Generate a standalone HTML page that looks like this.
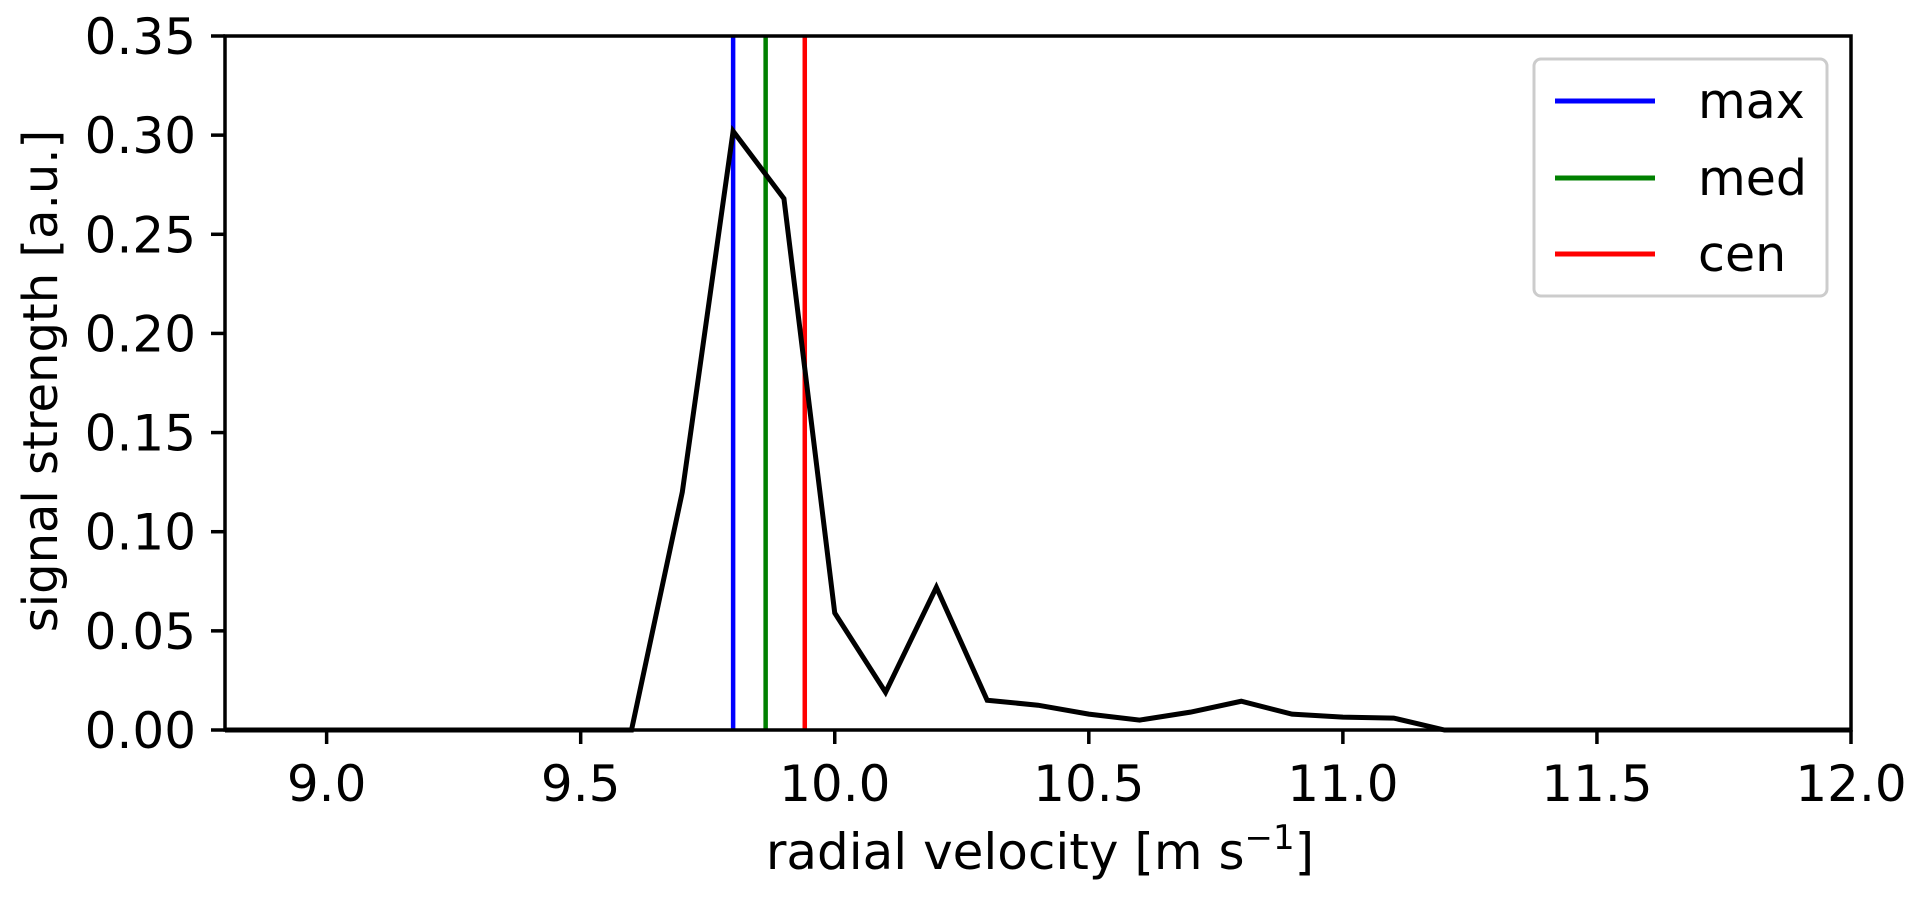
<!DOCTYPE html>
<html><head><meta charset="utf-8"><style>
html,body{margin:0;padding:0;background:#fff}
svg text{font-family:"DejaVu Sans","Liberation Sans",sans-serif;fill:#000}
</style></head><body>
<svg id="chart" width="1923" height="896" xmlns="http://www.w3.org/2000/svg">
<g id="marks"></g>
<g id="axes"></g>
<text x="1040" y="869" font-size="50" text-anchor="middle">radial velocity [m s<tspan font-size="34" dy="-20">−1</tspan><tspan dy="20">]</tspan></text>
<text transform="translate(57,381) rotate(-90)" font-size="48" text-anchor="middle">signal strength [a.u.]</text>
<g>
<rect x="1534" y="59" width="293" height="237" rx="7" fill="#fff" stroke="#ccc" stroke-width="3"/>
<line x1="1555" x2="1655" y1="101" y2="101" stroke="#0000ff" stroke-width="5"/>
<text x="1698" y="118" font-size="49">max</text>
<line x1="1555" x2="1655" y1="178" y2="178" stroke="#008000" stroke-width="5"/>
<text x="1698" y="195" font-size="49">med</text>
<line x1="1555" x2="1655" y1="254" y2="254" stroke="#ff0000" stroke-width="5"/>
<text x="1698" y="271" font-size="49">cen</text>
</g>
</svg>
<script>
const xs = [8.8,8.9,9.0,9.1,9.2,9.3,9.4,9.5,9.6,9.7,9.8,9.9,10.0,10.1,10.2,10.3,10.4,10.5,10.6,10.7,10.8,10.9,11.0,11.1,11.2,11.3,11.4,11.5,11.6,11.7,11.8,11.9,12.0];
const ys = [0,0,0,0,0,0,0,0,0,0.12,0.302,0.268,0.059,0.019,0.072,0.015,0.0125,0.008,0.005,0.009,0.0145,0.008,0.0065,0.006,0,0,0,0,0,0,0,0,0];
const vlineNames = ["max","med","cen"];
const vlineValues = [9.8,9.864,9.941];
const vlineColors = ["#0000ff","#008000","#ff0000"];
const xTicks = [9.0,9.5,10.0,10.5,11.0,11.5,12.0];
const xTickLabels = ["9.0","9.5","10.0","10.5","11.0","11.5","12.0"];
const yTicks = [0,0.05,0.10,0.15,0.20,0.25,0.30,0.35];
const yTickLabels = ["0.00","0.05","0.10","0.15","0.20","0.25","0.30","0.35"];
const L=225,R=1851,T=36,B=730,XMIN=8.8,XMAX=12.0,YMIN=0,YMAX=0.35;
const X=v=>L+(v-XMIN)/(XMAX-XMIN)*(R-L);
const Y=v=>B-(v-YMIN)/(YMAX-YMIN)*(B-T);
const NS="http://www.w3.org/2000/svg";
const marks=document.getElementById('marks'),axes=document.getElementById('axes');
function mk(tag,attrs,parent){const e=document.createElementNS(NS,tag);for(const k in attrs)e.setAttribute(k,attrs[k]);parent.appendChild(e);return e;}
vlineValues.forEach((v,i)=>{
 const l=mk('line',{x1:X(v),x2:X(v),y1:T,y2:B,stroke:vlineColors[i],'stroke-width':4.5},marks);
 
 
});
const p=mk('polyline',{points:xs.map((x,i)=>X(x)+','+Y(ys[i])).join(' '),fill:'none',stroke:'#000','stroke-width':5,'stroke-linejoin':'miter'},marks);


const fr=mk('rect',{x:L,y:T,width:R-L,height:B-T,fill:'none',stroke:'#000','stroke-width':3.5},axes);


xTicks.forEach((v,i)=>{
 mk('line',{x1:X(v),x2:X(v),y1:B,y2:B+14,stroke:'#000','stroke-width':3.5},axes);
 const t=mk('text',{x:X(v),y:B+71,'font-size':50,'text-anchor':'middle'},axes);
 t.textContent=xTickLabels[i];
 
 
});
yTicks.forEach((v,i)=>{
 mk('line',{x1:L-14,x2:L,y1:Y(v),y2:Y(v),stroke:'#000','stroke-width':3.5},axes);
 const t=mk('text',{x:L-29,y:Y(v)+18,'font-size':50,'text-anchor':'end'},axes);
 t.textContent=yTickLabels[i];
 
 
});
</script>
</body></html>
